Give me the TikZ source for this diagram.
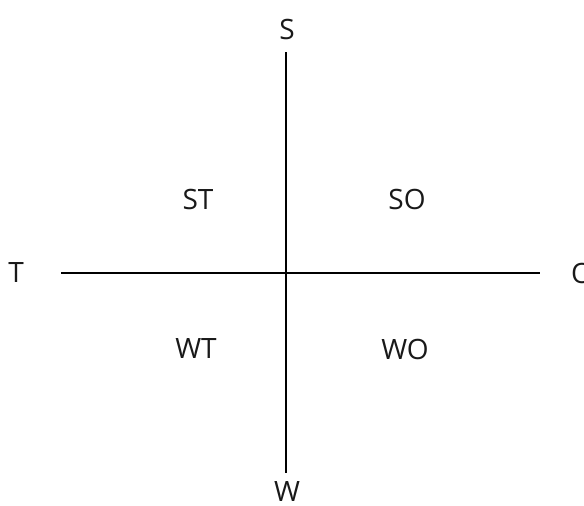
\documentclass[tikz,border=0pt]{standalone}
\usepackage{fontspec}
\setmainfont{Open Sans}
\usetikzlibrary{positioning}

\tikzset{
  axis/.style={line width=2pt, black},
  lbl/.style={font=\fontsize{28}{32}\selectfont, text=black!90},
}

\begin{document}
\begin{tikzpicture}[x=1pt, y=-1pt]
    \useasboundingbox (0,0) rectangle (584,506);

    % Axis end points
    \coordinate (top) at (286, 52);
    \coordinate (bot) at (286, 473);
    \coordinate (lft) at (61, 273);
    \coordinate (rgt) at (540, 273);

    % Axes
    \draw[axis] (top) -- (bot);
    \draw[axis] (lft) -- (rgt);

    % Axis labels
    \node[lbl] (s) at (287, 29) {S};
    \node[lbl] (w) at (287, 492) {W};
    \node[lbl] (t) at (16, 273) {T};
    \node[lbl] (o) at (582, 273) {O};

    % Quadrant labels
    \node[lbl] (st) at (198, 199) {ST};
    \node[lbl] (so) at (407, 199) {SO};
    \node[lbl] (wt) at (196, 349) {WT};
    \node[lbl] (wo) at (405, 349) {WO};
\end{tikzpicture}
\end{document}
